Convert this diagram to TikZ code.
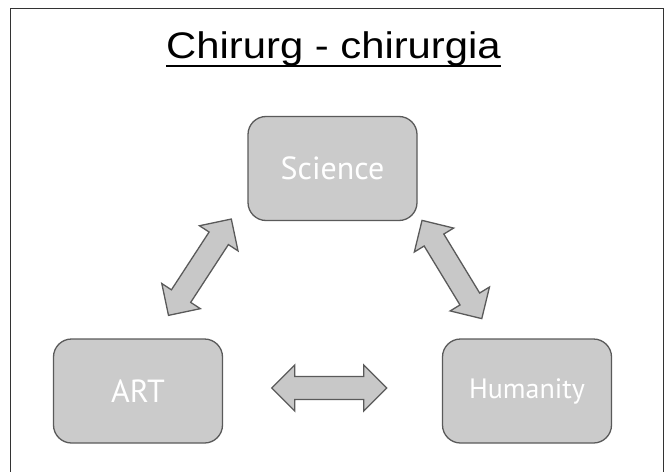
\documentclass[tikz,border=0pt]{standalone}
\usepackage{fontspec}
\setmainfont{Liberation Sans}
\newfontfamily\boxfont{PT Sans}
\definecolor{boxfill}{HTML}{CBCBCB}
\definecolor{boxline}{HTML}{5A5A5A}
\definecolor{arrfill}{HTML}{C8C8C8}
\definecolor{framecol}{HTML}{333333}
\tikzset{
  topicbox/.style={draw=boxline, fill=boxfill, line width=1.3pt, rounded corners=18pt,
    minimum width=169pt, minimum height=104pt, inner sep=0pt, text=white},
  arrstyle/.style={draw=boxline, fill=arrfill, line width=1.3pt, line join=miter},
  blockarrow/.pic={
    \path[arrstyle] (-57.5,0) -- (-34.5,23) -- (-34.5,11.5) -- (34.5,11.5) -- (34.5,23)
      -- (57.5,0) -- (34.5,-23) -- (34.5,-11.5) -- (-34.5,-11.5) -- (-34.5,-23) -- cycle;
  }
}
\begin{document}
\begin{tikzpicture}[x=1pt,y=-1pt]
\useasboundingbox (0,0) rectangle (669,471);
% frame
\draw[framecol, line width=1.4pt] (10.5,490) -- (10.5,8.5) -- (663.5,8.5) -- (663.5,490);
% title
\node[anchor=base, inner sep=0pt, font=\fontsize{37}{41}\selectfont] (title) at (333.5,58)
  {\scalebox{1.13}[1]{Chirurg - chirurgia}};
\draw[line width=2.2pt] ([yshift=-8pt]title.base west) -- ([yshift=-8pt]title.base east);
% boxes
\node[topicbox, font=\boxfont\fontsize{32}{36}\selectfont] (sci) at (332.5,168.5) {Science};
\node[topicbox, font=\boxfont\fontsize{32}{36}\selectfont] (art) at (138,391) {ART};
\node[topicbox, font=\boxfont\fontsize{28}{32}\selectfont] (hum) at (527,391) {Humanity};
% arrows
\coordinate (aleft) at (199.9,267.2);
\coordinate (aright) at (451.9,269.5);
\coordinate (abottom) at (329.3,388);
\pic[rotate=56.9] at (aleft) {blockarrow};
\pic[rotate=-58.7] at (aright) {blockarrow};
\pic at (abottom) {blockarrow};
\end{tikzpicture}
\end{document}
